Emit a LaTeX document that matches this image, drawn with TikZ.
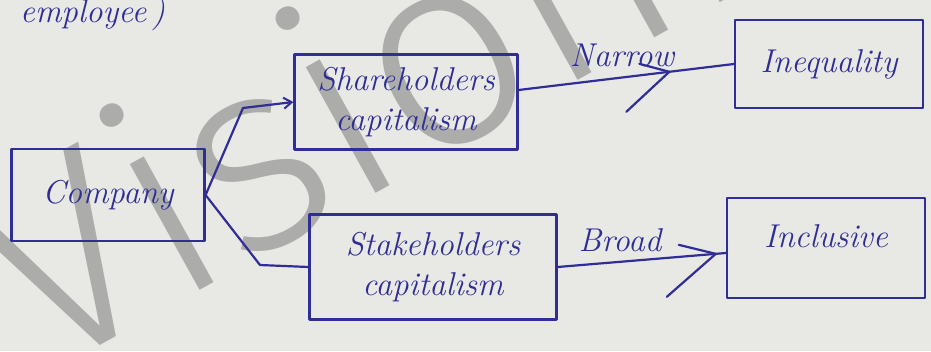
\documentclass[tikz,border=0pt]{standalone}
\usepackage{fontspec}
\newfontfamily\wmfont{Fira Sans Light}
\usetikzlibrary{arrows.meta}
\definecolor{paper}{RGB}{232,232,228}
\definecolor{ink}{RGB}{48,46,150}
\definecolor{wmgray}{RGB}{140,140,140}
\begin{document}
\begin{tikzpicture}[x=1pt,y=-1pt,
  pen/.style={draw=ink,line width=2.2pt,line cap=round,line join=round},
  box/.style={pen,rectangle,text=ink,align=center,inner sep=2pt,
    font=\itshape\fontsize{33}{40}\selectfont},
  word/.style={text=ink,inner sep=0pt,font=\itshape\fontsize{33}{40}\selectfont},
  tip/.style={-{Straight Barb[length=8pt,width=11pt,line width=2pt]}},
  wmtext/.style={inner sep=0pt,rotate=29,text=wmgray,text opacity=0.65,
    font=\wmfont\fontsize{275}{275}\selectfont}]
\useasboundingbox (0,0) rectangle (931,351);
\clip (0,0) rectangle (931,351);
\fill[paper] (0,0) rectangle (931,351);

% watermark behind the ink, split at the first i
\coordinate (wmi) at (174,305);
\node[wmtext,anchor=base east] (wmV) at (wmi) {V};
\node[wmtext,anchor=base west] (wmrest) at (wmi) {isionIAS};

% boxes
\node[box,minimum width=193pt,minimum height=92pt] (company) at (108,195) {Company};
\node[box,minimum width=223pt,minimum height=95pt] (share) at (406,102) {Shareholders\\capitalism};
\node[box,minimum width=188pt,minimum height=88pt] (ineq) at (829,64) {Inequality};
\node[box,minimum width=247pt,minimum height=105pt] (stake) at (433,267) {Stakeholders\\capitalism};
\node[box,minimum width=198pt,minimum height=100pt,text depth=24pt] (incl) at (826,248) {Inclusive};

% labels
\node[word,anchor=base west] (emp) at (20,22) {employee\,)};
\node[word] (narrow) at (622,55) {Narrow};
\node[word] (broad) at (620,240) {Broad};

% branches out of the company box
\coordinate (b1) at (243,108);
\coordinate (b2) at (260,265);
\draw[pen,tip] (company.east) -- (b1) -- (share.west);
\draw[pen] (company.east) -- (b2) -- (stake.west);

% outcome arrows with large open heads mid-line
\draw[pen] ([yshift=12pt]share.east) -- (ineq.west) coordinate[pos=0.70] (h1);
\draw[pen] (h1) -- ++(-30,-8);
\draw[pen] (h1) -- ++(-43,40);
\draw[pen] (stake.east) -- ([yshift=-5pt]incl.west) coordinate[pos=0.94] (h2);
\draw[pen] (h2) -- ++(-37,-9);
\draw[pen] (h2) -- ++(-49,43);
\end{tikzpicture}
\end{document}
